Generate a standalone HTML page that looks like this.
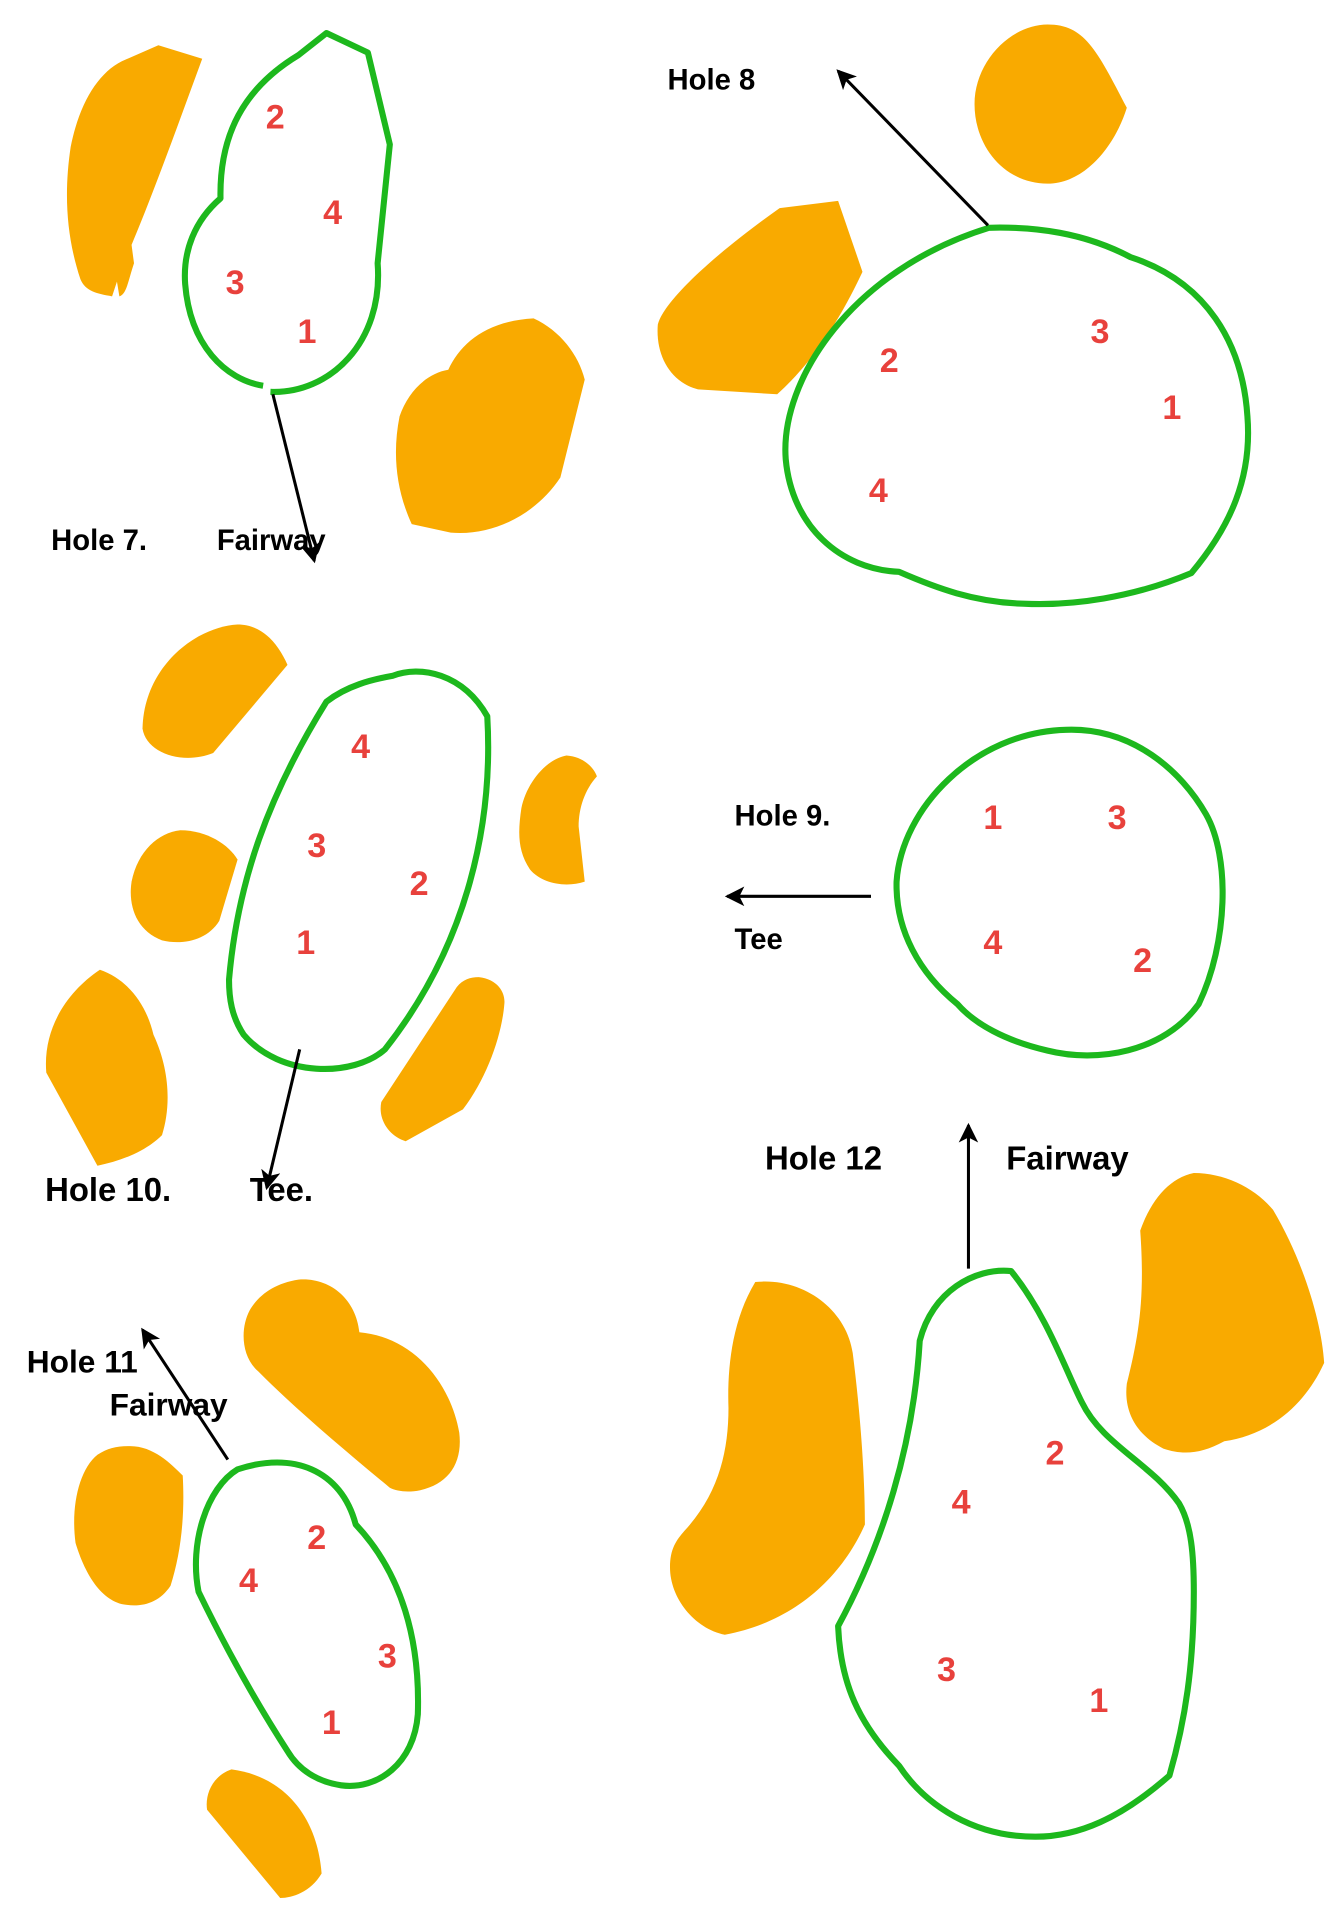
<!DOCTYPE html>
<html><head><meta charset="utf-8"><style>html,body{margin:0;padding:0;background:#fff}svg{display:block}</style></head>
<body>
<svg width="1340" height="1920" viewBox="0 0 1100 1568" preserveAspectRatio="none" xmlns="http://www.w3.org/2000/svg">
<defs><marker id="a" markerWidth="18" markerHeight="18" refX="14" refY="8" orient="auto" markerUnits="userSpaceOnUse"><path d="M0,0 L16,8 L0,16 L4,8 Z" fill="#000"/></marker></defs>
<g fill="#f9aa00">
<path d="M130,37 L166,48 C145,105 125,160 108,200 L110,215 C105,230 104,240 98,242 L96,230 L92,242 C80,240 70,238 66,228 C55,195 52,160 58,120 C65,85 80,60 100,50 Z"/>
<path d="M438,260 C460,270 475,290 480,310 L460,390 C440,420 405,438 370,435 L338,428 C325,400 322,370 328,340 C335,320 350,305 368,302 C378,280 400,262 438,260 Z"/>
<path d="M860,20 C890,20 900,40 925,88 C915,120 890,150 860,150 C825,150 800,120 800,85 C800,50 830,20 860,20 Z"/>
<path d="M640,170 L688,164 L708,222 C690,260 668,295 638,322 L573,318 C550,312 538,290 540,265 C545,245 590,205 640,170 Z"/>
<path d="M195,510 C215,510 228,525 236,543 L175,615 C150,625 120,615 117,595 C118,545 160,512 195,510 Z"/>
<path d="M148,678 C170,678 188,690 195,702 L180,752 C170,768 150,772 133,768 C112,760 105,740 108,720 C113,695 130,680 148,678 Z"/>
<path d="M82,792 C105,800 120,820 126,845 C140,875 140,905 133,927 C120,940 100,948 80,952 L38,876 C35,840 55,810 82,792 Z"/>
<path d="M465,617 C480,618 488,628 490,634 C480,645 475,660 475,675 L480,720 C465,725 445,722 435,710 C425,695 425,680 428,660 C432,640 448,620 465,617 Z"/>
<path d="M393,798 C410,800 415,812 414,820 C412,845 400,880 380,906 L333,932 C320,928 310,915 313,900 L375,806 C380,800 386,798 393,798 Z"/>
<path d="M245,1045 C270,1043 292,1060 295,1088 C340,1092 370,1130 377,1170 C380,1195 368,1212 345,1217 C335,1219 326,1218 320,1215 C280,1182 242,1150 212,1120 C198,1108 197,1085 205,1070 C212,1058 225,1048 245,1045 Z"/>
<path d="M105,1181 C125,1180 140,1195 150,1205 C152,1240 148,1270 140,1295 C130,1310 115,1313 100,1310 C80,1305 68,1280 62,1260 C58,1230 65,1200 80,1188 C88,1183 95,1181 105,1181 Z"/>
<path d="M190,1445 C230,1450 260,1480 264,1530 C255,1545 240,1550 230,1550 L170,1478 C168,1465 175,1450 190,1445 Z"/>
<path d="M620,1047 C660,1043 695,1070 700,1105 C707,1160 710,1210 710,1245 C690,1290 650,1325 595,1335 C570,1330 550,1305 550,1280 C550,1265 555,1258 562,1250 C590,1220 598,1185 598,1150 C597,1120 600,1080 620,1047 Z"/>
<path d="M980,958 C1005,958 1030,970 1045,988 C1070,1030 1085,1080 1087,1113 C1070,1150 1040,1172 1005,1177 C985,1188 970,1188 955,1183 C935,1173 922,1155 925,1130 C935,1090 940,1060 936,1005 C945,980 960,962 980,958 Z"/>
</g>
<g fill="none" stroke="#1db81d" stroke-width="5" stroke-linejoin="round">
<path d="M222,320 C270,322 315,280 310,215 L320,118 L302,43 L268,27 L245,45 C200,72 180,110 181,162 C160,180 150,205 152,232 C156,282 185,310 216,315"/>
<path d="M812,186 C850,185 890,190 928,210 C990,230 1020,280 1024,340 C1028,390 1010,430 978,468 C930,488 880,495 840,493 C800,492 768,480 738,467 C690,465 650,430 645,375 C640,310 700,220 812,186 Z"/>
<path d="M268,573 C285,560 305,555 322,552 C345,543 380,550 400,585 C405,670 385,770 316,857 C290,880 230,880 200,845 C190,830 188,815 188,800 C195,720 220,650 268,573 Z"/>
<path d="M875,596 C930,594 970,630 990,665 C1010,700 1008,770 984,820 C955,860 900,868 860,858 C825,850 800,836 786,820 C755,795 735,760 736,720 C740,660 800,598 875,596 Z"/>
<path d="M195,1200 C240,1185 280,1200 292,1245 C330,1285 345,1340 343,1400 C340,1440 310,1462 280,1458 C260,1455 245,1445 236,1430 C210,1390 185,1345 163,1300 C155,1260 170,1215 195,1200 Z"/>
<path d="M830,1038 C860,1075 875,1120 888,1145 C905,1180 945,1195 968,1228 C978,1245 980,1270 980,1300 C980,1360 973,1405 960,1450 C920,1485 885,1500 850,1500 C800,1500 760,1475 738,1442 C705,1408 690,1375 688,1328 C725,1260 750,1180 755,1095 C765,1055 800,1035 830,1038 Z"/>
</g>
<g stroke="#000" stroke-width="2.5" fill="none" marker-end="url(#a)">
<line x1="224" y1="322" x2="258" y2="458"/>
<line x1="811" y1="184" x2="688" y2="58"/>
<line x1="246" y1="857" x2="219" y2="970"/>
<line x1="715" y1="732" x2="597" y2="732"/>
<line x1="187" y1="1192" x2="117" y2="1086"/>
<line x1="795" y1="1036" x2="795" y2="919"/>
</g>
<g font-family="Liberation Sans, sans-serif" font-weight="bold" font-size="24" fill="#000">
<text x="42" y="449">Hole 7.</text><text x="178" y="449">Fairway</text>
<text x="548" y="73">Hole 8</text>
<text x="37" y="981" font-size="27">Hole 10.</text><text x="205" y="981" font-size="27">Tee.</text>
<text x="603" y="674">Hole 9.</text><text x="603" y="775">Tee</text>
<text x="22" y="1121" font-size="26">Hole 11</text><text x="90" y="1156" font-size="26">Fairway</text>
<text x="628" y="955" font-size="27">Hole 12</text><text x="826" y="955" font-size="27">Fairway</text>
</g>
<g font-family="Liberation Sans, sans-serif" font-weight="bold" font-size="28" fill="#e8413c" text-anchor="middle">
<text x="226" y="105">2</text><text x="273" y="183">4</text><text x="193" y="240">3</text><text x="252" y="280">1</text>
<text x="730" y="304">2</text><text x="903" y="280">3</text><text x="962" y="342">1</text><text x="721" y="410">4</text>
<text x="296" y="619">4</text><text x="260" y="700">3</text><text x="344" y="731">2</text><text x="251" y="779">1</text>
<text x="815" y="677">1</text><text x="917" y="677">3</text><text x="815" y="779">4</text><text x="938" y="794">2</text>
<text x="260" y="1265">2</text><text x="204" y="1300">4</text><text x="318" y="1362">3</text><text x="272" y="1416">1</text>
<text x="866" y="1196">2</text><text x="789" y="1236">4</text><text x="777" y="1373">3</text><text x="902" y="1398">1</text>
</g>
</svg>
</body></html>
